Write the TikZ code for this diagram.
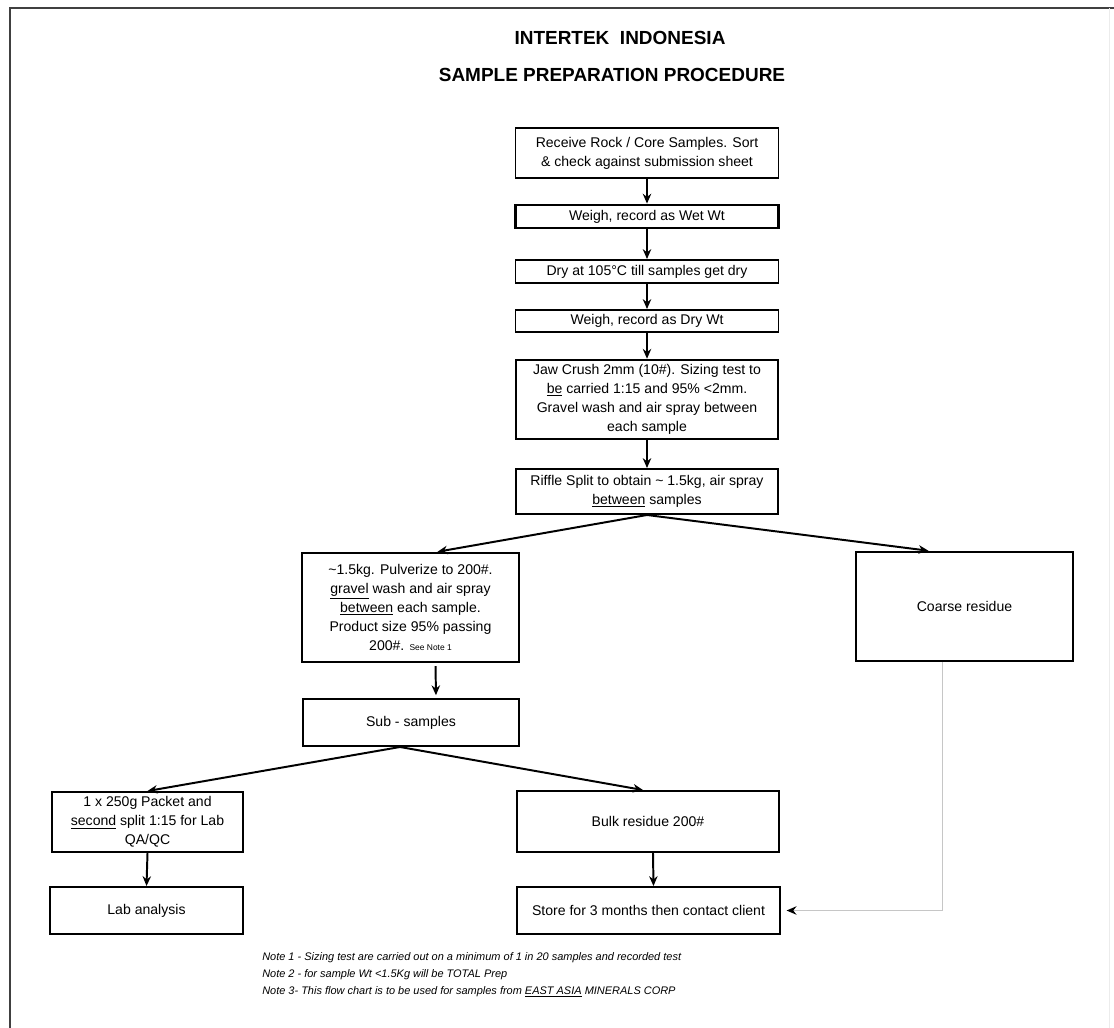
\documentclass[tikz,border=0pt]{standalone}
\usepackage{fontspec}
\setmainfont{Liberation Sans}
\usetikzlibrary{arrows.meta}
\newcommand{\px}{0.025cm}
\tikzset{
  box/.style={draw, line width=1.4pt, align=center, inner sep=2pt, font=\fontsize{10}{13.5}\selectfont},
  arr/.style={->, line width=1.4pt},
  note/.style={anchor=west, inner sep=0pt, font=\fontsize{7.8}{9}\selectfont\itshape}
}

\begin{document}
\begin{tikzpicture}[x=\px, y=-\px, >={Stealth[length=7pt,width=6pt]}]
   \useasboundingbox (0,0) rectangle (1114,1028);
   \draw[line width=1.2pt, black!75] (10,1028) -- (10,8) -- (1114,8);
   \draw[gray!15] (1109,8) -- (1109,1028);
   % title
   \node[font=\fontsize{13.5}{16}\selectfont\bfseries] (head1) at (620,38) {INTERTEK\ \ INDONESIA};
   \node[font=\fontsize{13.5}{16}\selectfont\bfseries] (head2) at (612,75) {SAMPLE PREPARATION PROCEDURE};
   % main column
   \node[box, minimum width=263*\px, minimum height=50*\px] (receive) at (647,153) {Receive Rock / Core Samples. Sort\\\& check against submission sheet};
   \node[box, line width=2pt, minimum width=263*\px, minimum height=23*\px] (wetwt) at (647,216.5) {Weigh, record as Wet Wt};
   \node[box, minimum width=263*\px, minimum height=23*\px] (dry) at (647,271.5) {Dry at 105°C till samples get dry};
   \node[box, minimum width=263*\px, minimum height=22*\px] (drywt) at (647,321) {Weigh, record as Dry Wt};
   \node[box, line width=1.8pt, minimum width=262*\px, minimum height=79*\px] (jaw) at (647,399.5) {Jaw Crush 2mm (10\#). Sizing test to\\\underline{be} carried 1:15 and 95\% <2mm.\\Gravel wash and air spray between\\each sample};
   \node[box, minimum width=262*\px, minimum height=45*\px] (riffle) at (647,491.5) {Riffle Split to obtain \textasciitilde{} 1.5kg, air spray\\\underline{between} samples};
   % split
   \node[box, line width=1.8pt, minimum width=217*\px, minimum height=109*\px] (pulv) at (410.5,607.5) {\textasciitilde1.5kg. Pulverize to 200\#.\\\underline{gravel} wash and air spray\\\underline{between} each sample.\\Product size 95\% passing\\200\#. {\fontsize{6}{7}\selectfont See Note 1}};
   \node[box, line width=1.8pt, minimum width=217*\px, minimum height=109*\px] (coarse) at (964.5,606.5) {Coarse residue};
   \node[box, minimum width=216*\px, minimum height=47*\px] (sub) at (411,722.5) {Sub - samples};
   \node[box, minimum width=191*\px, minimum height=60*\px] (packet) at (147.5,822) {1 x 250g Packet and\\\underline{second} split 1:15 for Lab\\QA/QC};
   \node[box, minimum width=262*\px, minimum height=61*\px] (bulk) at (648,821.5) {Bulk residue 200\#};
   \node[box, minimum width=193*\px, minimum height=47*\px] (lab) at (146.5,910.5) {Lab analysis};
   \node[box, minimum width=263*\px, minimum height=47*\px] (store) at (648.5,910.5) {Store for 3 months then contact client};
   % notes
   \node[note] (note1) at (262,958) {Note 1 - Sizing test are carried out on a minimum of 1 in 20 samples and recorded test};
   \node[note] (note2) at (262,975) {Note 2 - for sample Wt <1.5Kg will be TOTAL Prep};
   \node[note] (note3) at (262,992) {Note 3- This flow chart is to be used for samples from \underline{EAST ASIA} MINERALS CORP};
   % arrows
   \draw[arr] (receive.south) -- (wetwt.north);
   \draw[arr] (wetwt.south) -- (dry.north);
   \draw[arr] (dry.south) -- (drywt.north);
   \draw[arr] (drywt.south) -- (jaw.north);
   \draw[arr] (jaw.south) -- (riffle.north);
   \draw[arr] (riffle.south) -- ([xshift=27*\px]pulv.north);
   \draw[arr] (riffle.south) -- ([xshift=-36*\px]coarse.north);
   \draw[arr, shorten <=2pt, shorten >=2pt] ([xshift=25*\px]pulv.south) -- ([xshift=25*\px]sub.north);
   \draw[arr] ([xshift=-11*\px]sub.south) -- (packet.north);
   \draw[arr] ([xshift=-11*\px]sub.south) -- ([xshift=-5*\px]bulk.north);
   \draw[arr] (packet.south) -- (lab.north);
   \draw[arr] ([xshift=5*\px]bulk.south) -- ([xshift=5*\px]store.north);
   \draw[gray!45, line width=1pt, -{Stealth[length=7pt,width=6pt,color=black]}] ([xshift=-22*\px]coarse.south) |- ([xshift=4pt]store.east);
\end{tikzpicture}
\end{document}
